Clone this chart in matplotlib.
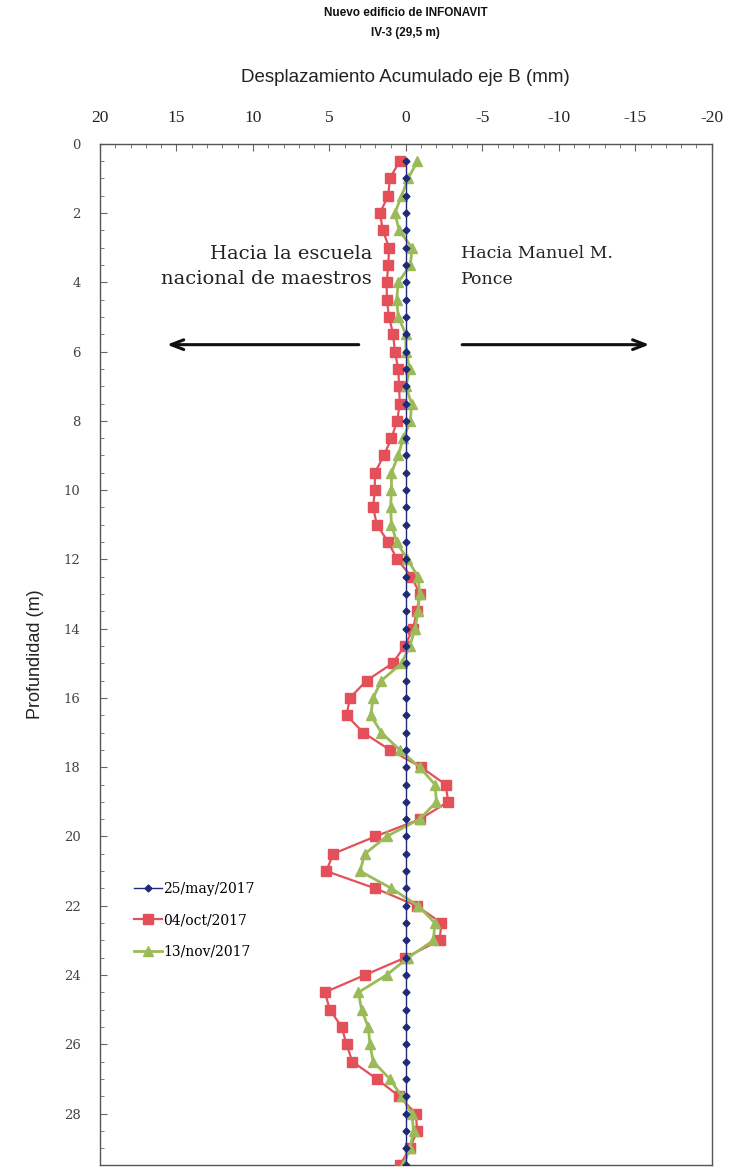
import matplotlib
matplotlib.use("Agg")
import matplotlib.pyplot as plt
from matplotlib.ticker import MultipleLocator
import numpy as np

depth = [0.5, 1.0, 1.5, 2.0, 2.5, 3.0, 3.5, 4.0, 4.5, 5.0, 5.5, 6.0, 6.5, 7.0, 7.5,
         8.0, 8.5, 9.0, 9.5, 10.0, 10.5, 11.0, 11.5, 12.0, 12.5, 13.0, 13.5, 14.0, 14.5,
         15.0, 15.5, 16.0, 16.5, 17.0, 17.5, 18.0, 18.5, 19.0, 19.5, 20.0, 20.5, 21.0,
         21.5, 22.0, 22.5, 23.0, 23.5, 24.0, 24.5, 25.0, 25.5, 26.0, 26.5, 27.0, 27.5,
         28.0, 28.5, 29.0, 29.5]

may_2017 = [0.0] * len(depth)

oct_2017 = [0.4, 1.05, 1.15, 1.7, 1.5, 1.1, 1.15, 1.25, 1.25, 1.1, 0.83, 0.72, 0.5, 0.44, 0.4,
            0.57, 0.94, 1.44, 2.03, 2.03, 2.14, 1.9, 1.15, 0.57, -0.37, -0.92, -0.7, -0.48, 0.07,
            0.87, 2.57, 3.66, 3.88, 2.79, 1.05, -1.0, -2.6, -2.77, -0.92, 2.0, 4.75, 5.2,
            2.0, -0.7, -2.33, -2.2, 0.05, 2.68, 5.3, 4.97, 4.2, 3.88, 3.5, 1.9, 0.44,
            -0.65, -0.74, -0.26, 0.4]

nov_2017 = [-0.76, -0.15, 0.28, 0.72, 0.44, -0.4, -0.3, 0.5, 0.6, 0.5, 0.0, 0.0, -0.26, 0.0, -0.37,
            -0.3, 0.17, 0.5, 0.94, 0.94, 1.0, 0.94, 0.6, -0.1, -0.8, -0.9, -0.8, -0.6, -0.26,
            0.28, 1.6, 2.14, 2.3, 1.6, 0.4, -0.9, -1.9, -2.0, -0.9, 1.26, 2.68, 3.0,
            0.94, -0.8, -1.9, -1.8, -0.15, 1.26, 3.1, 2.9, 2.46, 2.35, 2.14, 1.05, 0.28,
            -0.37, -0.52, -0.26, 0.17]

series_labels = ["25/may/2017", "04/oct/2017", "13/nov/2017"]
x_ticks = [20, 15, 10, 5, 0, -5, -10, -15, -20]
y_ticks = [0, 2, 4, 6, 8, 10, 12, 14, 16, 18, 20, 22, 24, 26, 28]

fig = plt.figure(figsize=(7.37, 11.69), dpi=100)
ax = fig.add_axes([0.1357, 0.003, 0.830, 0.874])

ax.plot(oct_2017, depth, color="#e4505a", lw=1.6, marker="s", ms=7,
        markeredgecolor="#e4505a", label=series_labels[1], zorder=3)
ax.plot(nov_2017, depth, color="#9bbb59", lw=2.0, marker="^", ms=7,
        markeredgecolor="#9bbb59", label=series_labels[2], zorder=4)
ax.plot(may_2017, depth, color="#1f2a78", lw=1.0, marker="D", ms=3.5,
        markeredgecolor="#1f2a78", label=series_labels[0], zorder=5)

ax.set_xlim(20, -20)
ax.set_ylim(29.5, 0)

ax.xaxis.tick_top()
ax.set_xticks(x_ticks)
ax.set_xticklabels([str(v) for v in x_ticks], fontfamily="Liberation Serif", fontsize=12.5, color="#222222")
ax.xaxis.set_minor_locator(MultipleLocator(1))
ax.set_yticks(y_ticks)
ax.set_yticklabels([str(v) for v in y_ticks], fontfamily="DejaVu Serif", fontsize=9.5, color="#444444")
ax.yaxis.set_minor_locator(MultipleLocator(0.5))
ax.tick_params(axis="both", which="both", direction="in", color="#666666")
ax.tick_params(axis="x", which="major", length=5, pad=13, top=True, bottom=False)
ax.tick_params(axis="x", which="minor", length=3, top=True, bottom=False)
ax.tick_params(axis="y", which="major", length=5, pad=14)
ax.tick_params(axis="y", which="minor", length=3)
for s in ax.spines.values():
    s.set_color("#555555")
    s.set_linewidth(1.0)

ax.set_ylabel("Profundidad (m)", fontfamily="Liberation Sans", fontsize=13, labelpad=14, color="#222222")

fig.text(0.55, 0.934, "Desplazamiento Acumulado eje B (mm)", ha="center", va="center",
         fontfamily="Liberation Sans", fontsize=13.5, color="#222222")
fig.text(0.55, 0.9885, "Nuevo edificio de INFONAVIT", ha="center", va="center",
         fontfamily="Liberation Sans", fontweight="bold", fontsize=8.5, color="#111111")
fig.text(0.55, 0.9715, "IV-3 (29,5 m)", ha="center", va="center",
         fontfamily="Liberation Sans", fontweight="bold", fontsize=8.5, color="#111111")

ax.text(2.2, 3.55, "Hacia la escuela\nnacional de maestros", ha="right", va="center",
        fontfamily="DejaVu Serif", fontsize=14, color="#222222", linespacing=1.5)
ax.text(-3.6, 3.55, "Hacia Manuel M.\nPonce", ha="left", va="center",
        fontfamily="DejaVu Serif", fontsize=12.5, color="#222222", linespacing=1.7)

arrow_kw = dict(arrowstyle="->,head_length=0.9,head_width=0.35", color="#111111", lw=2.2)
ax.annotate("", xy=(15.8, 5.8), xytext=(2.9, 5.8), arrowprops=arrow_kw)
ax.annotate("", xy=(-16.1, 5.8), xytext=(-3.5, 5.8), arrowprops=arrow_kw)

handles, labels = ax.get_legend_handles_labels()
order = [2, 0, 1]
leg = ax.legend([handles[i] for i in order], [labels[i] for i in order],
                loc="upper left", bbox_to_anchor=(0.035, 0.29), frameon=False,
                prop={"family": "DejaVu Serif", "size": 10}, handlelength=2.0,
                handletextpad=0.1, labelspacing=1.25)

fig.savefig("out.png", dpi=100, facecolor="white")
